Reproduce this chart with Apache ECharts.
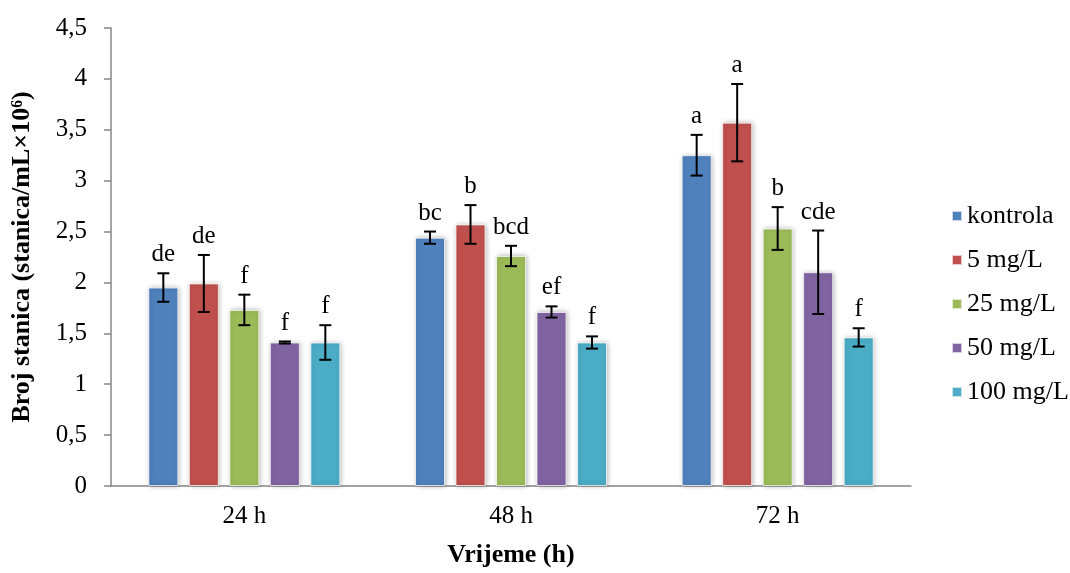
<!DOCTYPE html>
<html>
<head>
<meta charset="utf-8">
<script src="https://cdn.jsdelivr.net/npm/echarts@6/dist/echarts.min.js"></script>
<style>html,body{margin:0;padding:0;background:#fff}#c{width:1070px;height:573px}</style>
</head>
<body>
<div id="c"></div>
<script>
const categories = ['24 h', '48 h', '72 h'];
const seriesNames = ['kontrola', '5 mg/L', '25 mg/L', '50 mg/L', '100 mg/L'];
const kontrola = [1.95, 2.44, 3.25];
const mg5 = [1.99, 2.57, 3.57];
const mg25 = [1.73, 2.26, 2.53];
const mg50 = [1.41, 1.71, 2.10];
const mg100 = [1.41, 1.41, 1.46];
const errKontrola = [0.14, 0.06, 0.20];
const err5 = [0.28, 0.19, 0.38];
const err25 = [0.15, 0.10, 0.21];
const err50 = [0.01, 0.055, 0.41];
const err100 = [0.17, 0.06, 0.09];
const lettersKontrola = ['de', 'bc', 'a'];
const letters5 = ['de', 'b', 'a'];
const letters25 = ['f', 'bcd', 'b'];
const letters50 = ['f', 'ef', 'cde'];
const letters100 = ['f', 'f', 'f'];
const yTicks = ['0', '0,5', '1', '1,5', '2', '2,5', '3', '3,5', '4', '4,5'];

const values = [kontrola, mg5, mg25, mg50, mg100];
const errors = [errKontrola, err5, err25, err50, err100];
const letters = [lettersKontrola, letters5, letters25, letters50, letters100];
const colors = ['#4F81BD', '#C0504D', '#9BBB59', '#8064A2', '#4BACC6'];
const BAR_W = 30, BAR_GAP = 10.5;
const FONT = '"Liberation Serif", "Times New Roman", serif';

const series = [];
values.forEach((v, i) => {
  series.push({
    name: seriesNames[i], type: 'bar', data: v,
    barWidth: BAR_W, barGap: (BAR_GAP / BAR_W * 100) + '%',
    itemStyle: { color: colors[i], borderColor: 'rgba(255,255,255,0.7)', borderWidth: 1,
      shadowBlur: 5, shadowColor: 'rgba(0,0,0,0.28)', shadowOffsetX: 1, shadowOffsetY: 0 },
    emphasis: { disabled: true }
  });
});
values.forEach((v, i) => {
  const offset = (i - 2) * (BAR_W + BAR_GAP);
  series.push({
    name: 'err' + i, type: 'custom', z: 10,
    data: v.map((val, k) => [k, val - errors[i][k], val + errors[i][k], letters[i][k]]),
    renderItem: function (params, api) {
      const k = api.value(0);
      const x = api.coord([k, 0])[0] + offset;
      const yl = api.coord([k, api.value(1)])[1];
      const yh = api.coord([k, api.value(2)])[1];
      const cap = 6;
      const st = { stroke: '#000', lineWidth: 2 };
      return {
        type: 'group',
        children: [
          { type: 'line', shape: { x1: x, y1: yl, x2: x, y2: yh }, style: st },
          { type: 'line', shape: { x1: x - cap, y1: yl, x2: x + cap, y2: yl }, style: st },
          { type: 'line', shape: { x1: x - cap, y1: yh, x2: x + cap, y2: yh }, style: st },
          { type: 'text', x: x, y: yh - 6,
            style: { text: letters[i][k], fill: '#000', font: '25px ' + FONT, align: 'center', verticalAlign: 'bottom' } }
        ]
      };
    }
  });
});

const chart = echarts.init(document.getElementById('c'));
chart.setOption({
  animation: false,
  backgroundColor: '#fff',
  grid: { left: 111, right: 159, top: 28, bottom: 82 },
  legend: {
    data: seriesNames, orient: 'vertical', left: 946, top: 198,
    itemWidth: 10, itemHeight: 10, itemGap: 18, itemTextGap: 8, icon: 'rect',
    textStyle: { fontFamily: FONT, fontSize: 26, color: '#000' }
  },
  xAxis: {
    type: 'category', data: categories,
    axisLine: { lineStyle: { color: '#868686', width: 1.5 } },
    axisTick: { length: 8, lineStyle: { color: '#868686', width: 1.5 } },
    axisLabel: { fontFamily: FONT, fontSize: 25, color: '#000', margin: 18 },
    name: 'Vrijeme (h)', nameLocation: 'middle', nameGap: 56,
    nameTextStyle: { fontFamily: FONT, fontSize: 26, fontWeight: 'bold', color: '#000' }
  },
  yAxis: {
    type: 'value', min: 0, max: 4.5, interval: 0.5,
    splitLine: { show: false },
    axisLine: { show: true, lineStyle: { color: '#868686', width: 1.5 } },
    axisTick: { show: true, length: 7, lineStyle: { color: '#868686', width: 1.5 } },
    axisLabel: { fontFamily: FONT, fontSize: 25, color: '#000', margin: 24,
      formatter: function (v) { return yTicks[Math.round(v / 0.5)]; } },
    name: 'Broj stanica (stanica/mL×10⁶)', nameLocation: 'middle', nameGap: 76, nameRotate: 90,
    nameTextStyle: { fontFamily: FONT, fontSize: 26, fontWeight: 'bold', color: '#000' }
  },
  series: series
});
</script>
</body>
</html>
